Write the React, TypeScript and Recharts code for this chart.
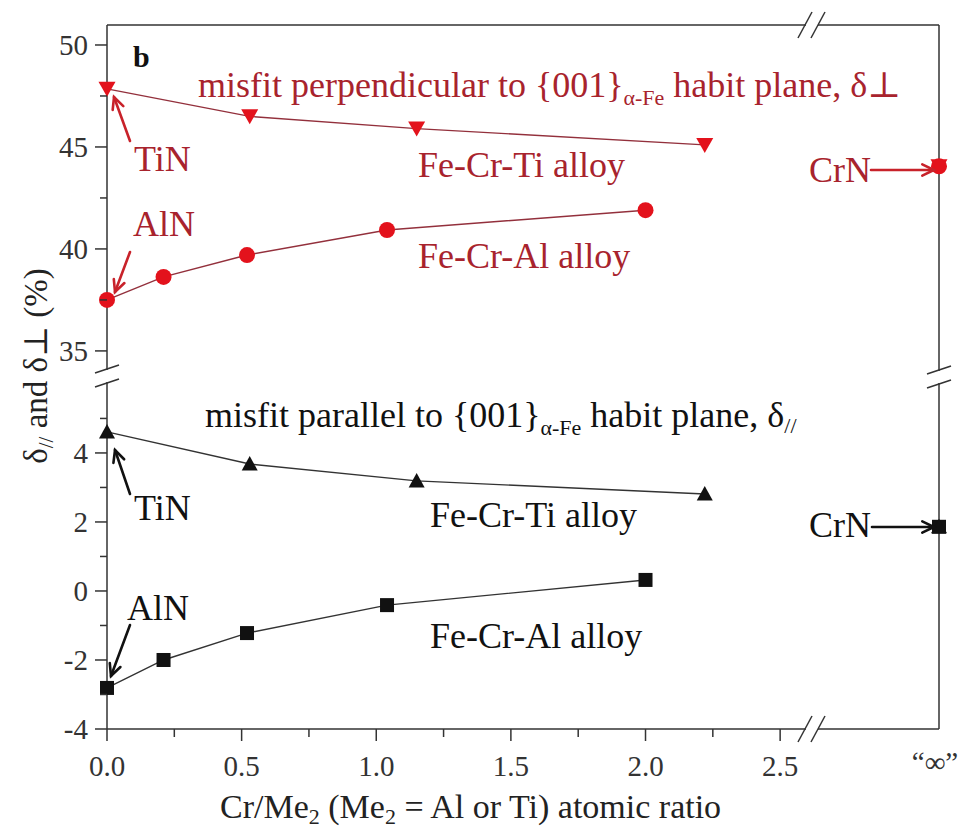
import React from "react";
import { Line, LineChart, XAxis, YAxis } from "recharts";

const SERIF = "'Liberation Serif', 'DejaVu Serif', 'Noto Serif', 'Nimbus Roman', 'FreeSerif', Times, serif";
const AXIS = "#333";
const RED_TEXT = "#a8232d";
const RED_MARK = "#e3121c";
const RED_LINE = "#93303c";
const BLACK = "#111";

// "∞" sits at the right edge of the x scale, after the axis break
const INF_X = 3.09;

// Cr/Me2 ratios of the alloys
const tiRatio = [0, 0.53, 1.15, 2.22];
const alRatio = [0, 0.21, 0.52, 1.04, 2.0];

// misfit perpendicular to the habit plane (%)
const perpTi = [47.85, 46.5, 45.9, 45.1];
const perpAl = [37.5, 38.63, 39.7, 40.93, 41.9];
const perpCrN = 44.05;

// misfit parallel to the habit plane (%)
const parTi = [4.61, 3.68, 3.19, 2.81];
const parAl = [-2.81, -2.0, -1.22, -0.41, 0.32];
const parCrN = 1.86;

const xTicks = [0, 0.25, 0.5, 0.75, 1, 1.25, 1.5, 1.75, 2, 2.25, 2.5, INF_X];
const upperTicks = [35, 37.5, 40, 42.5, 45, 47.5, 50];
const lowerTicks = [-4, -3, -2, -1, 0, 1, 2, 3, 4, 5];
const upperDomain = [33.77, 50.98];
const lowerDomain = [-4, 6.23];

const pts = (xs: number[], ys: number[]) => xs.map((x, i) => ({ x, y: ys[i] }));

const downTri = (color: string) => (p: any) =>
  p.cx == null ? <g /> : (
    <polygon
      points={`${p.cx - 8.5},${p.cy - 7} ${p.cx + 8.5},${p.cy - 7} ${p.cx},${p.cy + 8}`}
      fill={color}
    />
  );
const upTri = (color: string) => (p: any) =>
  p.cx == null ? <g /> : (
    <polygon
      points={`${p.cx - 8},${p.cy + 6.5} ${p.cx + 8},${p.cy + 6.5} ${p.cx},${p.cy - 8}`}
      fill={color}
    />
  );
const circle = (color: string) => (p: any) =>
  p.cx == null ? <g /> : <circle cx={p.cx} cy={p.cy} r={8} fill={color} />;
const square = (color: string) => (p: any) =>
  p.cx == null ? <g /> : <rect x={p.cx - 7} y={p.cy - 7} width={14} height={14} fill={color} />;
const both = (a: any, b: any) => (p: any) => (
  <g>
    {a(p)}
    {b(p)}
  </g>
);

const tickText: React.CSSProperties = { fontFamily: SERIF, fontSize: 29 };

const leftTick = (isMajor: (v: number) => boolean) => (p: any) => {
  const v = p.payload.value;
  const major = isMajor(v);
  return (
    <g>
      <line x1={p.x - (major ? 12 : 7)} x2={p.x} y1={p.y} y2={p.y} stroke={AXIS} strokeWidth={1.5} />
      {major && (
        <text x={p.x - 19} y={p.y} dy="0.35em" textAnchor="end" style={tickText} fill="#333">
          {v}
        </text>
      )}
    </g>
  );
};

const rightTick = (p: any) => (
  <line x1={p.x - 4} x2={p.x} y1={p.y} y2={p.y} stroke={AXIS} strokeWidth={1.2} />
);

const bottomTick = (p: any) => {
  const v = p.payload.value;
  if (v === INF_X) {
    return (
      <text x={p.x - 4} y={p.y + 43} textAnchor="middle" style={tickText} fill="#333">
        “∞”
      </text>
    );
  }
  const major = Math.abs(v * 2 - Math.round(v * 2)) < 1e-6;
  return (
    <g>
      <line x1={p.x} x2={p.x} y1={p.y} y2={p.y + (major ? 12 : 8)} stroke={AXIS} strokeWidth={1.5} />
      {major && (
        <text x={p.x} y={p.y + 47} textAnchor="middle" style={tickText} fill="#333">
          {v.toFixed(1)}
        </text>
      )}
    </g>
  );
};

function Arrow({ x1, y1, x2, y2, color }: { x1: number; y1: number; x2: number; y2: number; color: string }) {
  const a = Math.atan2(y2 - y1, x2 - x1);
  const len = 13;
  const h1 = [x2 - len * Math.cos(a - 0.45), y2 - len * Math.sin(a - 0.45)];
  const h2 = [x2 - len * Math.cos(a + 0.45), y2 - len * Math.sin(a + 0.45)];
  return (
    <g stroke={color} strokeWidth={2.6} fill="none" strokeLinecap="round">
      <line x1={x1} y1={y1} x2={x2} y2={y2} />
      <polyline points={`${h1[0]},${h1[1]} ${x2},${y2} ${h2[0]},${h2[1]}`} />
    </g>
  );
}

function Slashes({ cx, cy, vertical }: { cx: number; cy: number; vertical: boolean }) {
  // break mark on an axis: white gap with two slanted strokes
  if (vertical) {
    return (
      <g>
        <rect x={cx - 4} y={cy - 6} width={8} height={12} fill="#fff" />
        <line x1={cx - 12} y1={cy - 3} x2={cx + 12} y2={cy - 11} stroke={AXIS} strokeWidth={1.5} />
        <line x1={cx - 12} y1={cy + 11} x2={cx + 12} y2={cy + 3} stroke={AXIS} strokeWidth={1.5} />
      </g>
    );
  }
  return (
    <g>
      <rect x={cx - 6} y={cy - 4} width={12} height={8} fill="#fff" />
      <line x1={cx - 14} y1={cy + 13} x2={cx - 0} y2={cy - 13} stroke={AXIS} strokeWidth={1.5} />
      <line x1={cx - 1} y1={cy + 13} x2={cx + 13} y2={cy - 13} stroke={AXIS} strokeWidth={1.5} />
    </g>
  );
}

const layer: React.CSSProperties = { position: "absolute", left: 0, top: 0 };

export default function App() {
  return (
    <div style={{ position: "absolute", left: 0, top: 0, width: 962, height: 835, background: "#fff", fontFamily: SERIF }}>
      {/* upper panel: perpendicular misfit */}
      <div style={layer}>
        <LineChart width={962} height={835} margin={{ top: 24, right: 22, bottom: 459, left: 47 }}>
          <XAxis
            xAxisId="t"
            orientation="top"
            type="number"
            dataKey="x"
            domain={[0, INF_X]}
            height={1}
            tick={false}
            tickLine={false}
            axisLine={{ stroke: AXIS, strokeWidth: 1.5 }}
          />
          <YAxis
            yAxisId="l"
            type="number"
            domain={upperDomain}
            ticks={upperTicks}
            interval={0}
            width={60}
            tickSize={0}
            tickMargin={0}
            tickLine={false}
            tick={leftTick((v) => v % 5 === 0)}
            axisLine={{ stroke: AXIS, strokeWidth: 1.5 }}
          />
          <YAxis
            yAxisId="r"
            orientation="right"
            type="number"
            domain={upperDomain}
            ticks={upperTicks}
            interval={0}
            width={1}
            tickSize={0}
            tickMargin={0}
            tickLine={false}
            tick={rightTick}
            axisLine={{ stroke: AXIS, strokeWidth: 1.5 }}
          />
          <Line
            xAxisId="t"
            yAxisId="l"
            data={pts(tiRatio, perpTi)}
            dataKey="y"
            stroke={RED_LINE}
            strokeWidth={1.4}
            dot={downTri(RED_MARK)}
            isAnimationActive={false}
          />
          <Line
            xAxisId="t"
            yAxisId="l"
            data={pts(alRatio, perpAl)}
            dataKey="y"
            stroke={RED_LINE}
            strokeWidth={1.4}
            dot={circle(RED_MARK)}
            isAnimationActive={false}
          />
          <Line
            xAxisId="t"
            yAxisId="l"
            data={[{ x: INF_X, y: perpCrN }]}
            dataKey="y"
            stroke="none"
            dot={both(circle(RED_MARK), downTri(RED_MARK))}
            isAnimationActive={false}
          />
        </LineChart>
      </div>

      {/* lower panel: parallel misfit */}
      <div style={layer}>
        <LineChart width={962} height={835} margin={{ top: 376, right: 22, bottom: 56, left: 47 }}>
          <XAxis
            xAxisId="b"
            type="number"
            dataKey="x"
            domain={[0, INF_X]}
            ticks={xTicks}
            interval={0}
            height={50}
            tickSize={0}
            tickMargin={0}
            tickLine={false}
            tick={bottomTick}
            axisLine={{ stroke: AXIS, strokeWidth: 1.5 }}
          />
          <YAxis
            yAxisId="l"
            type="number"
            domain={lowerDomain}
            ticks={lowerTicks}
            interval={0}
            width={60}
            tickSize={0}
            tickMargin={0}
            tickLine={false}
            tick={leftTick((v) => v % 2 === 0)}
            axisLine={{ stroke: AXIS, strokeWidth: 1.5 }}
          />
          <YAxis
            yAxisId="r"
            orientation="right"
            type="number"
            domain={lowerDomain}
            ticks={lowerTicks}
            interval={0}
            width={1}
            tickSize={0}
            tickMargin={0}
            tickLine={false}
            tick={rightTick}
            axisLine={{ stroke: AXIS, strokeWidth: 1.5 }}
          />
          <Line
            xAxisId="b"
            yAxisId="l"
            data={pts(tiRatio, parTi)}
            dataKey="y"
            stroke="#333"
            strokeWidth={1.4}
            dot={upTri(BLACK)}
            isAnimationActive={false}
          />
          <Line
            xAxisId="b"
            yAxisId="l"
            data={pts(alRatio, parAl)}
            dataKey="y"
            stroke="#333"
            strokeWidth={1.4}
            dot={square(BLACK)}
            isAnimationActive={false}
          />
          <Line
            xAxisId="b"
            yAxisId="l"
            data={[{ x: INF_X, y: parCrN }]}
            dataKey="y"
            stroke="none"
            dot={both(square(BLACK), upTri(BLACK))}
            isAnimationActive={false}
          />
        </LineChart>
      </div>

      {/* breaks, annotations and axis titles */}
      <svg width={962} height={835} style={{ ...layer, pointerEvents: "none", fontFamily: SERIF }}>
        <Slashes cx={107} cy={376} vertical />
        <Slashes cx={939} cy={377} vertical />
        <Slashes cx={812} cy={729} vertical={false} />
        <Slashes cx={812} cy={25} vertical={false} />

        <text x={133} y={67} fontSize={30} fontWeight="bold" fill="#111">b</text>

        <g fill={RED_TEXT} fontSize={36}>
          <text x={198} y={97}>
            misfit perpendicular to {"{001}"}
            <tspan fontSize={22} dy={8}>α-Fe</tspan>
            <tspan dy={-8}> habit plane, δ⊥</tspan>
          </text>
          <text x={134} y={171}>TiN</text>
          <text x={133} y={236}>AlN</text>
          <text x={418} y={177}>Fe-Cr-Ti alloy</text>
          <text x={418} y={268}>Fe-Cr-Al alloy</text>
          <text x={809} y={182}>CrN</text>
        </g>
        <Arrow x1={130} y1={141} x2={114} y2={97} color="#c8222a" />
        <Arrow x1={130} y1={252} x2={115} y2={292} color="#c8222a" />
        <Arrow x1={871} y1={170} x2={934} y2={170} color="#c8222a" />

        <g fill="#111" fontSize={36}>
          <text x={205} y={427}>
            misfit parallel to {"{001}"}
            <tspan fontSize={22} dy={8}>α-Fe</tspan>
            <tspan dy={-8}> habit plane, δ</tspan>
            <tspan fontSize={22} dy={6}>//</tspan>
          </text>
          <text x={134} y={520}>TiN</text>
          <text x={127} y={620}>AlN</text>
          <text x={430} y={527}>Fe-Cr-Ti alloy</text>
          <text x={430} y={648}>Fe-Cr-Al alloy</text>
          <text x={809} y={537}>CrN</text>
        </g>
        <Arrow x1={130} y1={494} x2={115} y2={450} color="#111" />
        <Arrow x1={130} y1={625} x2={111} y2={676} color="#111" />
        <Arrow x1={872} y1={527} x2={934} y2={527} color="#111" />

        <text x={220} y={818} fontSize={34} fill="#222">
          Cr/Me<tspan fontSize={22} dy={6}>2</tspan>
          <tspan dy={-6}> (Me</tspan>
          <tspan fontSize={22} dy={6}>2</tspan>
          <tspan dy={-6}> = Al or Ti) atomic ratio</tspan>
        </text>

        <text transform="translate(47, 366) rotate(-90)" textAnchor="middle" fontSize={33} fill="#222">
          δ<tspan fontSize={21} dy={6}>//</tspan>
          <tspan dy={-6}> and δ⊥ (%)</tspan>
        </text>
      </svg>
    </div>
  );
}
